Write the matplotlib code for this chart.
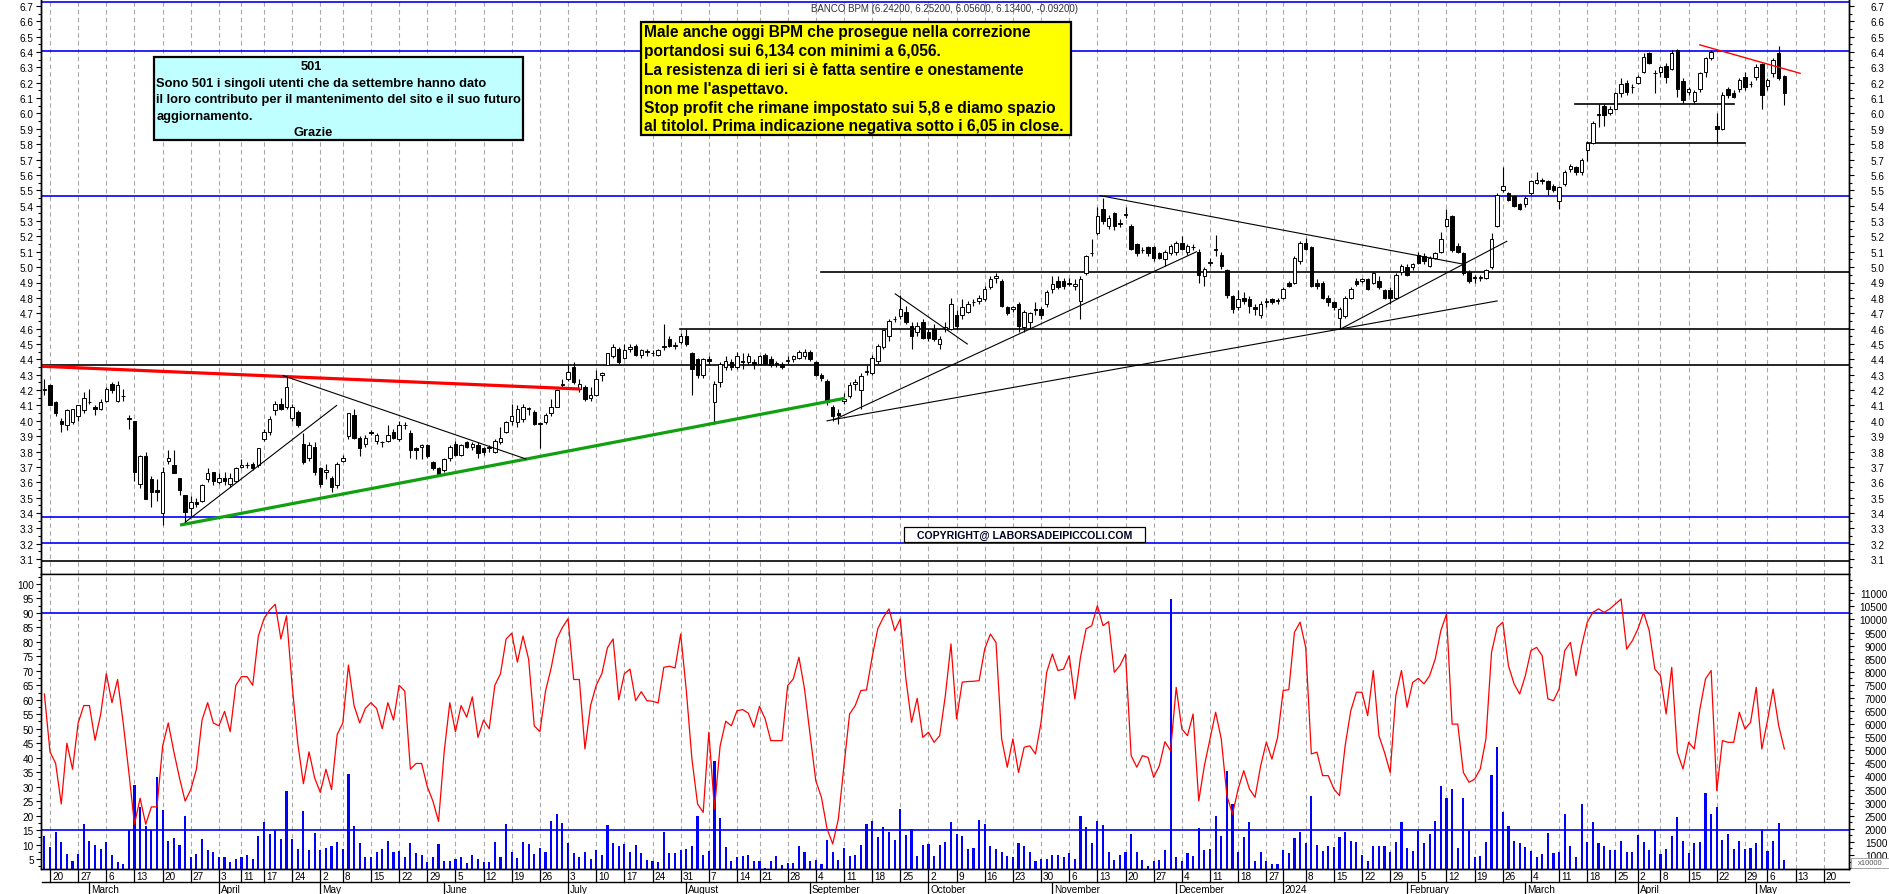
import numpy as np
import pandas as pd
import matplotlib
matplotlib.use('Agg')
import matplotlib.pyplot as plt
from matplotlib.patches import Rectangle
from matplotlib.ticker import MultipleLocator, FixedLocator

W, H = 1890, 895
plt.rcParams['font.family'] = ['Liberation Sans', 'DejaVu Sans']

# Borsa Italiana closing days in the period
HOLIDAYS = ['2023-04-07', '2023-04-10', '2023-05-01', '2023-08-15', '2023-12-25',
            '2023-12-26', '2024-01-01', '2024-03-29', '2024-04-01', '2024-05-01']

# daily candles, 17 Feb 2023 -> 9 May 2024
opens = [
    4.20, 4.23, 4.12, 4.00, 3.97, 3.99, 4.03, 4.07, 4.12, 4.09,
    4.08, 4.13, 4.24, 4.13, 4.16, 4.02, 4.00, 3.59, 3.77, 3.62,
    3.55, 3.40, 3.74, 3.71, 3.63, 3.52, 3.43, 3.47, 3.48, 3.62,
    3.67, 3.60, 3.63, 3.59, 3.61, 3.70, 3.71, 3.72, 3.71, 3.88,
    3.93, 4.07, 4.11, 4.09, 4.02, 4.06, 3.85, 3.76, 3.83, 3.69,
    3.67, 3.63, 3.58, 3.74, 3.90, 4.04, 3.89, 3.85, 3.93, 3.87,
    3.86, 3.87, 3.93, 3.88, 3.97, 3.92, 3.82, 3.83, 3.84, 3.73,
    3.69, 3.68, 3.76, 3.85, 3.78, 3.86, 3.83, 3.84, 3.82, 3.82,
    3.80, 3.86, 3.93, 4.00, 3.99, 4.01, 4.08, 4.06, 3.98, 3.99,
    4.05, 4.09, 4.23, 4.27, 4.35, 4.21, 4.22, 4.15, 4.17, 4.30,
    4.36, 4.42, 4.47, 4.41, 4.47, 4.49, 4.43, 4.45, 4.44, 4.43,
    4.48, 4.53, 4.49, 4.51, 4.55, 4.44, 4.40, 4.30, 4.40, 4.12,
    4.25, 4.35, 4.38, 4.35, 4.39, 4.38, 4.38, 4.37, 4.43, 4.40,
    4.37, 4.37, 4.39, 4.40, 4.41, 4.42, 4.45, 4.38, 4.30, 4.26,
    4.09, 4.05, 4.13, 4.16, 4.24, 4.20, 4.32, 4.31, 4.39, 4.48,
    4.55, 4.66, 4.68, 4.71, 4.62, 4.58, 4.64, 4.58, 4.60, 4.50,
    4.60, 4.60, 4.69, 4.69, 4.71, 4.77, 4.78, 4.79, 4.87, 4.93,
    4.91, 4.74, 4.73, 4.76, 4.61, 4.64, 4.73, 4.73, 4.76, 4.86,
    4.91, 4.91, 4.90, 4.88, 4.78, 4.96, 5.09, 5.22, 5.38, 5.27,
    5.35, 5.29, 5.34, 5.27, 5.15, 5.11, 5.13, 5.13, 5.09, 5.05,
    5.09, 5.10, 5.16, 5.10, 5.13, 5.10, 4.94, 5.03, 5.11, 5.08,
    4.98, 4.81, 4.74, 4.80, 4.79, 4.74, 4.69, 4.77, 4.79, 4.78,
    4.80, 4.90, 4.90, 5.04, 5.16, 5.13, 4.90, 4.90, 4.80, 4.77,
    4.67, 4.68, 4.80, 4.91, 4.91, 4.92, 4.90, 4.91, 4.85, 4.85,
    4.80, 4.97, 5.00, 5.00, 5.08, 5.07, 5.01, 5.06, 5.10, 5.27,
    5.33, 5.14, 5.09, 4.97, 4.93, 4.93, 4.93, 5.00, 5.27, 5.50,
    5.48, 5.46, 5.41, 5.41, 5.48, 5.55, 5.56, 5.56, 5.53, 5.43,
    5.54, 5.64, 5.65, 5.62, 5.76, 5.81, 5.99, 6.05, 6.00, 6.03,
    6.13, 6.20, 6.17, 6.20, 6.27, 6.39, 6.26, 6.27, 6.31, 6.29,
    6.41, 6.21, 6.14, 6.08, 6.16, 6.27, 6.36, 5.92, 5.90, 6.16,
    6.13, 6.16, 6.24, 6.19, 6.24, 6.32, 6.18, 6.26, 6.39, 6.242,
]
highs = [
    4.27, 4.24, 4.13, 4.02, 4.08, 4.08, 4.10, 4.19, 4.21, 4.10,
    4.14, 4.22, 4.25, 4.26, 4.21, 4.04, 4.00, 3.78, 3.80, 3.64,
    3.62, 3.70, 3.81, 3.81, 3.63, 3.52, 3.51, 3.50, 3.59, 3.69,
    3.67, 3.66, 3.67, 3.66, 3.70, 3.75, 3.73, 3.73, 3.82, 3.95,
    4.03, 4.13, 4.15, 4.29, 4.11, 4.07, 3.92, 3.86, 3.86, 3.70,
    3.72, 3.64, 3.73, 3.78, 4.05, 4.08, 3.90, 3.91, 3.94, 3.92,
    3.87, 3.97, 3.95, 4.00, 3.99, 3.94, 3.83, 3.85, 3.85, 3.74,
    3.70, 3.76, 3.84, 3.87, 3.85, 3.87, 3.86, 3.86, 3.83, 3.84,
    3.88, 3.96, 4.00, 4.11, 4.10, 4.11, 4.09, 4.07, 3.99, 4.05,
    4.14, 4.21, 4.27, 4.36, 4.38, 4.27, 4.23, 4.22, 4.33, 4.32,
    4.44, 4.50, 4.48, 4.50, 4.50, 4.50, 4.47, 4.47, 4.46, 4.47,
    4.63, 4.55, 4.51, 4.57, 4.60, 4.45, 4.41, 4.41, 4.42, 4.26,
    4.38, 4.42, 4.40, 4.45, 4.44, 4.44, 4.40, 4.43, 4.44, 4.42,
    4.39, 4.38, 4.42, 4.43, 4.46, 4.47, 4.46, 4.39, 4.31, 4.27,
    4.10, 4.08, 4.18, 4.25, 4.27, 4.31, 4.36, 4.43, 4.50, 4.60,
    4.66, 4.68, 4.82, 4.75, 4.64, 4.64, 4.66, 4.60, 4.63, 4.55,
    4.64, 4.80, 4.72, 4.79, 4.78, 4.79, 4.82, 4.88, 4.94, 4.96,
    4.92, 4.75, 4.75, 4.77, 4.72, 4.71, 4.77, 4.74, 4.85, 4.94,
    4.94, 4.93, 4.93, 4.92, 4.94, 5.08, 5.18, 5.39, 5.45, 5.34,
    5.36, 5.31, 5.39, 5.28, 5.16, 5.13, 5.14, 5.14, 5.10, 5.11,
    5.15, 5.17, 5.20, 5.15, 5.15, 5.12, 5.00, 5.06, 5.21, 5.10,
    4.99, 4.82, 4.85, 4.84, 4.81, 4.76, 4.78, 4.80, 4.80, 4.80,
    4.87, 4.91, 5.07, 5.17, 5.19, 5.14, 4.92, 4.91, 4.82, 4.78,
    4.74, 4.81, 4.87, 4.93, 4.93, 4.93, 4.97, 4.94, 4.86, 4.87,
    4.96, 5.02, 5.02, 5.03, 5.10, 5.09, 5.07, 5.10, 5.23, 5.38,
    5.34, 5.16, 5.10, 4.98, 4.95, 4.95, 4.99, 5.22, 5.48, 5.65,
    5.49, 5.47, 5.42, 5.46, 5.57, 5.62, 5.58, 5.57, 5.54, 5.53,
    5.63, 5.67, 5.66, 5.71, 5.82, 5.95, 6.06, 6.06, 6.05, 6.14,
    6.23, 6.22, 6.19, 6.25, 6.39, 6.40, 6.28, 6.31, 6.33, 6.41,
    6.42, 6.23, 6.17, 6.15, 6.27, 6.37, 6.41, 6.00, 6.14, 6.17,
    6.15, 6.23, 6.27, 6.21, 6.32, 6.33, 6.23, 6.36, 6.44, 6.252,
]
lows = [
    4.17, 4.10, 4.03, 3.93, 3.94, 3.98, 4.00, 4.05, 4.11, 4.04,
    4.07, 4.12, 4.18, 4.12, 4.13, 3.95, 3.61, 3.56, 3.49, 3.44,
    3.48, 3.32, 3.72, 3.66, 3.52, 3.34, 3.38, 3.44, 3.47, 3.60,
    3.58, 3.59, 3.58, 3.57, 3.60, 3.69, 3.69, 3.68, 3.70, 3.87,
    3.91, 4.04, 4.07, 4.08, 4.00, 3.96, 3.72, 3.74, 3.65, 3.57,
    3.62, 3.54, 3.56, 3.73, 3.88, 3.88, 3.77, 3.83, 3.91, 3.85,
    3.83, 3.86, 3.88, 3.87, 3.95, 3.76, 3.75, 3.75, 3.76, 3.68,
    3.64, 3.67, 3.74, 3.77, 3.77, 3.82, 3.81, 3.76, 3.78, 3.80,
    3.79, 3.85, 3.92, 3.97, 3.96, 3.99, 4.04, 3.97, 3.82, 3.98,
    4.03, 4.09, 4.22, 4.26, 4.24, 4.19, 4.13, 4.13, 4.16, 4.26,
    4.36, 4.41, 4.37, 4.40, 4.45, 4.42, 4.41, 4.42, 4.42, 4.42,
    4.46, 4.48, 4.47, 4.50, 4.49, 4.17, 4.28, 4.28, 4.36, 3.98,
    4.22, 4.33, 4.33, 4.34, 4.34, 4.37, 4.34, 4.36, 4.36, 4.35,
    4.35, 4.34, 4.37, 4.38, 4.40, 4.40, 4.39, 4.29, 4.26, 4.10,
    4.00, 3.98, 4.11, 4.15, 4.20, 4.08, 4.30, 4.30, 4.37, 4.47,
    4.52, 4.64, 4.66, 4.63, 4.47, 4.55, 4.53, 4.52, 4.52, 4.47,
    4.58, 4.59, 4.60, 4.66, 4.70, 4.75, 4.76, 4.78, 4.86, 4.90,
    4.74, 4.69, 4.71, 4.58, 4.58, 4.60, 4.69, 4.66, 4.74, 4.83,
    4.86, 4.86, 4.88, 4.85, 4.66, 4.95, 5.07, 5.21, 5.28, 5.25,
    5.24, 5.26, 5.32, 5.11, 5.07, 5.09, 5.07, 5.04, 5.05, 5.01,
    5.08, 5.08, 5.11, 5.08, 5.11, 4.90, 4.88, 5.01, 5.07, 4.99,
    4.80, 4.70, 4.72, 4.76, 4.70, 4.69, 4.67, 4.74, 4.76, 4.76,
    4.79, 4.87, 4.89, 5.02, 5.11, 4.87, 4.86, 4.79, 4.75, 4.72,
    4.60, 4.67, 4.79, 4.88, 4.90, 4.85, 4.89, 4.86, 4.79, 4.76,
    4.79, 4.95, 4.94, 4.98, 5.02, 5.02, 5.00, 5.05, 5.09, 5.26,
    5.10, 5.09, 4.95, 4.90, 4.90, 4.91, 4.92, 4.99, 5.26, 5.49,
    5.43, 5.39, 5.37, 5.39, 5.47, 5.54, 5.54, 5.47, 5.49, 5.38,
    5.53, 5.62, 5.60, 5.60, 5.69, 5.80, 5.91, 5.92, 5.99, 6.02,
    6.11, 6.12, 6.13, 6.19, 6.26, 6.32, 6.13, 6.24, 6.20, 6.28,
    6.11, 6.07, 6.12, 6.06, 6.14, 6.24, 6.35, 5.81, 5.89, 6.10,
    6.10, 6.14, 6.15, 6.17, 6.22, 6.03, 6.15, 6.24, 6.22, 6.056,
]
closes = [
    4.21, 4.10, 4.05, 3.98, 4.07, 4.08, 4.10, 4.15, 4.12, 4.08,
    4.12, 4.21, 4.20, 4.23, 4.16, 4.01, 3.67, 3.77, 3.49, 3.54,
    3.54, 3.67, 3.76, 3.66, 3.55, 3.41, 3.47, 3.46, 3.58, 3.66,
    3.61, 3.63, 3.61, 3.63, 3.69, 3.71, 3.71, 3.69, 3.82, 3.93,
    4.01, 4.11, 4.08, 4.22, 4.09, 3.97, 3.73, 3.84, 3.67, 3.59,
    3.68, 3.57, 3.72, 3.76, 4.05, 3.89, 3.82, 3.89, 3.92, 3.91,
    3.86, 3.91, 3.89, 3.97, 3.97, 3.81, 3.81, 3.84, 3.77, 3.69,
    3.65, 3.75, 3.83, 3.78, 3.84, 3.83, 3.85, 3.79, 3.80, 3.83,
    3.87, 3.89, 3.99, 4.03, 4.08, 4.09, 4.08, 3.98, 3.98, 4.04,
    4.09, 4.20, 4.24, 4.32, 4.25, 4.24, 4.14, 4.17, 4.27, 4.31,
    4.44, 4.48, 4.38, 4.46, 4.48, 4.43, 4.46, 4.45, 4.44, 4.46,
    4.48, 4.49, 4.49, 4.55, 4.50, 4.34, 4.30, 4.40, 4.39, 4.24,
    4.37, 4.39, 4.35, 4.42, 4.38, 4.42, 4.37, 4.42, 4.37, 4.36,
    4.37, 4.35, 4.39, 4.42, 4.45, 4.45, 4.40, 4.30, 4.28, 4.12,
    4.03, 4.04, 4.14, 4.23, 4.25, 4.29, 4.32, 4.41, 4.49, 4.59,
    4.65, 4.66, 4.73, 4.64, 4.55, 4.62, 4.54, 4.54, 4.53, 4.53,
    4.61, 4.76, 4.62, 4.74, 4.76, 4.77, 4.80, 4.86, 4.92, 4.94,
    4.75, 4.70, 4.74, 4.62, 4.71, 4.70, 4.72, 4.69, 4.84, 4.89,
    4.87, 4.88, 4.89, 4.89, 4.92, 5.07, 5.09, 5.33, 5.30, 5.32,
    5.27, 5.28, 5.34, 5.12, 5.09, 5.11, 5.09, 5.06, 5.06, 5.10,
    5.14, 5.16, 5.12, 5.14, 5.13, 4.95, 4.99, 5.03, 5.12, 5.01,
    4.82, 4.73, 4.79, 4.78, 4.75, 4.73, 4.76, 4.78, 4.77, 4.78,
    4.86, 4.88, 5.06, 5.16, 5.12, 4.88, 4.88, 4.80, 4.77, 4.74,
    4.73, 4.80, 4.86, 4.89, 4.92, 4.86, 4.96, 4.87, 4.80, 4.80,
    4.95, 5.01, 4.95, 5.02, 5.03, 5.04, 5.06, 5.09, 5.18, 5.31,
    5.11, 5.10, 4.96, 4.91, 4.93, 4.93, 4.98, 5.18, 5.47, 5.53,
    5.44, 5.40, 5.38, 5.45, 5.56, 5.57, 5.56, 5.51, 5.50, 5.52,
    5.62, 5.66, 5.62, 5.70, 5.81, 5.94, 5.99, 5.99, 6.03, 6.13,
    6.19, 6.14, 6.17, 6.24, 6.37, 6.33, 6.26, 6.30, 6.24, 6.39,
    6.16, 6.09, 6.16, 6.14, 6.26, 6.36, 6.40, 5.90, 6.12, 6.12,
    6.11, 6.22, 6.17, 6.19, 6.30, 6.12, 6.22, 6.35, 6.23, 6.134,
]
# volume (x10000) on the right scale of the lower panel
volume = [
    1710, 1290, 1870, 1480, 1040, 780, 1040, 2180, 1550, 1380,
    1230, 1480, 1000, 720, 660, 1970, 3680, 2820, 2120, 1970,
    3970, 2730, 1550, 1640, 1380, 2480, 940, 1040, 1610, 1190,
    1100, 940, 910, 750, 850, 940, 1000, 850, 1740, 2250,
    1800, 1960, 1610, 3430, 1610, 1230, 2690, 1190, 1840, 1190,
    1250, 1330, 1510, 1230, 4100, 2120, 1460, 910, 910, 1100,
    1230, 1550, 1100, 1170, 940, 1460, 1080, 1000, 720, 940,
    1420, 780, 780, 850, 940, 690, 1000, 850, 750, 750,
    1480, 940, 2180, 1130, 870, 1480, 1420, 1040, 1260, 1130,
    2310, 2570, 2220, 1460, 1080, 940, 1100, 850, 1200, 1000,
    2150, 1460, 1330, 1420, 1100, 1380, 1060, 810, 760, 750,
    1870, 1060, 1080, 1190, 1230, 1360, 2500, 1000, 1170, 4610,
    2410, 1320, 760, 910, 970, 1010, 760, 760, 490, 760,
    970, 620, 690, 690, 1330, 1100, 780, 810, 660, 1590,
    1130, 810, 1270, 970, 1000, 1390, 2180, 2290, 1680, 2080,
    1890, 1570, 2760, 1750, 1990, 950, 1390, 1420, 970, 1380,
    1480, 2250, 1800, 1710, 1230, 1250, 2340, 2180, 1330, 1230,
    1130, 970, 910, 1450, 1360, 1130, 760, 850, 850, 1010,
    1010, 910, 1060, 850, 2480, 2060, 1450, 2290, 2150, 1130,
    820, 1000, 1130, 1800, 1100, 810, 570, 780, 820, 1200,
    10780, 940, 780, 1060, 970, 2040, 1190, 1230, 2500, 1710,
    4220, 2950, 1100, 1700, 2250, 780, 1100, 760, 660, 660,
    1200, 1080, 1640, 1870, 1450, 3240, 1390, 1140, 1360, 1290,
    1680, 1870, 1520, 1480, 1000, 780, 1360, 1360, 1330, 1100,
    1510, 2250, 1250, 1170, 1930, 1450, 1800, 2310, 3620, 3170,
    3520, 1250, 3170, 1970, 910, 950, 1480, 4060, 5110, 2630,
    2120, 1520, 1450, 1290, 1140, 910, 1040, 1840, 1060, 1100,
    2570, 1330, 910, 2950, 1480, 2250, 1450, 1330, 1190, 1190,
    1520, 1100, 1100, 1760, 1480, 1190, 1960, 1040, 1230, 1710,
    2440, 1520, 1060, 1450, 1510, 3360, 2570, 2820, 1570, 1800,
    1230, 1520, 1230, 1260, 1460, 1960, 1170, 1520, 2220, 810,
]
# oscillator (left scale of the lower panel)
oscillator = [
    62, 42, 38, 24, 45, 36, 52, 58, 58, 46,
    55, 69, 59, 67, 52, 35, 17, 26, 17, 23,
    23, 44, 52, 42, 33, 25, 29, 36, 53, 59,
    52, 51, 56, 49, 65, 68, 68, 65, 82, 88,
    91, 93, 81, 89, 65, 45, 31, 42, 33, 28,
    36, 29, 48, 52, 72, 58, 52, 57, 59, 57,
    50, 59, 53, 65, 63, 36, 38, 38, 30, 25,
    18, 42, 59, 49, 58, 54, 61, 47, 53, 50,
    65, 69, 81, 83, 73, 82, 74, 51, 49, 63,
    71, 81, 85, 88, 67, 67, 43, 58, 65, 69,
    78, 81, 60, 69, 70.6, 59.7, 62.8, 59.7, 59.5, 58.9,
    71.2, 71.6, 71, 82.7, 63.2, 39.5, 24, 21.1, 48.8, 22.3,
    44, 52.6, 51, 56.2, 56.6, 55.4, 50.5, 57.7, 53.4, 45.9,
    45.9, 45.9, 64.9, 67.2, 74.7, 63.7, 47.6, 32, 26.3, 15.4,
    10.2, 18.8, 37.2, 55.1, 58, 63.2, 63.4, 74.7, 84.5, 88.5,
    91.4, 83.9, 87.9, 67.2, 52.2, 60.5, 47, 48.8, 45.3, 47.6,
    61.4, 79.3, 53.4, 66.1, 66.3, 66.4, 66.6, 77.6, 82.7, 79.8,
    46.5, 36.7, 46.5, 34.9, 43.6, 44.1, 41.3, 52.2, 69.5, 75.8,
    70.1, 70.6, 75.2, 60.3, 74.7, 84.5, 85.6, 92.5, 85.6, 87,
    69.5, 71.8, 75.8, 40.7, 36.7, 40.7, 40.1, 33.2, 37.2, 45.5,
    42.4, 64.3, 49.9, 47.6, 55.1, 25.1, 37.2, 46.5, 55.7, 46.5,
    26.9, 20.5, 29.2, 35.5, 29.2, 26.3, 37.2, 45.3, 39.5, 47,
    63.2, 63.5, 83.3, 86.8, 78.1, 41.3, 41.9, 33.8, 33.8, 29.2,
    26.9, 44.1, 56.2, 62.6, 62.6, 54.5, 70.1, 47.6, 41.8, 34.9,
    61.4, 70.1, 57.4, 66, 67.4, 65.5, 68.3, 74.1, 83.9, 89.6,
    51.6, 51.6, 34.9, 31.5, 32.6, 36.1, 46.5, 76.4, 85, 86.8,
    71.8, 65.5, 62, 68.3, 77, 78.1, 75.2, 60.3, 59.7, 63.7,
    77, 79.8, 68.3, 78.7, 86.8, 90.2, 91.4, 90.2, 91.4, 93.1,
    94.8, 77.5, 80.4, 84.5, 90.2, 83.9, 70.6, 68.3, 55.1, 71.2,
    41.8, 36.1, 45.3, 43, 56.8, 67.2, 70.1, 28.6, 45.9, 45.3,
    45.3, 55.7, 49.9, 52.2, 64.3, 43, 52.8, 63.7, 51, 43,
]

# levels and trend lines drawn on the chart (x = trading day, 0 = 20 Feb 2023)
blue_levels = [6.723, 6.405, 5.465, 3.372, 3.203]
black_levels = [4.36, 3.09]
partial_levels = [(4.97, 136.9, None), (4.60, 111.9, None), (6.06, 270.8, 299.1), (5.81, 273.0, 301.0)]
red_trend = [(-1.5, 4.355), (94.2, 4.207)]
green_trend = [(23.1, 3.322), (141.2, 4.147)]
thin_trends = [
    [(24.0, 3.34), (50.9, 4.10)],
    [(41.4, 4.294), (84.5, 3.752)],
    [(150.1, 4.826), (162.9, 4.50)],
    [(138.0, 4.00), (139.4, 4.01)],
    [(139.4, 4.01), (203.6, 5.10)],
    [(139.4, 4.01), (257.0, 4.78)],
    [(186.5, 5.465), (250.9, 5.02)],
    [(229.2, 4.598), (258.7, 5.168)],
]
red_thin = [(293.0, 6.446), (310.8, 6.261)]

n = min(len(opens), len(highs), len(lows), len(closes), len(volume), len(oscillator))
xs = np.arange(n) - 1
XL = (-1.51, 319.48)

days = pd.bdate_range('2023-02-17', '2024-05-31', freq='C', holidays=HOLIDAYS)

fig = plt.figure(figsize=(W / 100, H / 100), dpi=100)
LPX, RPX = 41.5, 1849


def rect(top, bottom):
    return [LPX / W, 1 - bottom / H, (RPX - LPX) / W, (bottom - top) / H]


ax_p = fig.add_axes(rect(0, 575))
ax_v = fig.add_axes(rect(575, 870))
ax_d = fig.add_axes(rect(870, 895))

# price scale: 4.9 at y=283.5 px, 153.7 px per unit
ax_p.set_ylim(4.9 - (575 - 283.5) / 153.7, 4.9 + 283.5 / 153.7)
ax_v.set_ylim(1000 - 14 / 0.02617, 1000 + 281 / 0.02617)
for a in (ax_p, ax_v, ax_d):
    a.set_xlim(*XL)

ax_o = ax_v.twinx()
ax_o.set_ylim(5 - 10 / 2.895, 5 + 285 / 2.895)
ax_o.yaxis.tick_left()
ax_o.yaxis.set_label_position('left')
ax_o.patch.set_visible(False)

# weekly grid and date strip
week_x, week_lab, month_x, month_lab = [], [], [], []
for k in range(1, len(days)):
    xi = k - 1
    if xi > XL[1]:
        break
    if days[k].weekday() <= days[k - 1].weekday():
        week_x.append(xi)
        week_lab.append('' if (days[k].month == 1 and days[k].day == 2) else str(days[k].day))
    if days[k].month != days[k - 1].month:
        month_x.append(xi)
        month_lab.append('2024' if days[k].month == 1 else days[k].strftime('%B'))

for a in (ax_p, ax_v):
    for wx in week_x:
        a.axvline(wx, color='#a8a8a8', lw=0.8, ls=(0, (4, 3)), zorder=0.5)

ax_d.set_ylim(0, 25)
ax_d.axis('off')
ax_d.plot(XL, [12, 12], color='black', lw=1.0, clip_on=False)
for wx, lab in zip(week_x, week_lab):
    ax_d.plot([wx, wx], [12, 25], color='black', lw=0.9)
    ax_d.text(wx + 0.35, 18.3, lab, fontsize=7.2, ha='left', va='center')
for mx, lab in zip(month_x, month_lab):
    ax_d.plot([mx, mx], [0, 12], color='black', lw=0.9)
    ax_d.text(mx + 0.3, 5.3, lab, fontsize=7.2, ha='left', va='center')

# horizontal levels
for lv in blue_levels:
    ax_p.axhline(lv, color='#0000ff', lw=1.2, zorder=1.5)
for lv in black_levels:
    ax_p.axhline(lv, color='black', lw=1.2, zorder=1.5)
for lv, x0, x1 in partial_levels:
    ax_p.plot([x0, XL[1] if x1 is None else x1], [lv, lv], color='black', lw=1.2, zorder=1.5)

# candles
o = np.array(opens[:n]); c = np.array(closes[:n])
hi = np.array(highs[:n]); lo = np.array(lows[:n])
ax_p.vlines(xs, lo, hi, color='black', lw=0.8, zorder=2)
bottoms = np.minimum(o, c)
heights = np.maximum(np.abs(c - o), 0.004)
faces = ['white' if cc >= oo else 'black' for oo, cc in zip(o, c)]
ax_p.bar(xs, heights, bottom=bottoms, width=0.62, color=faces, edgecolor='black',
         linewidth=0.7, zorder=3)

# trend lines
ax_p.plot(*zip(*red_trend), color='#ff0000', lw=2.3, zorder=4, solid_capstyle='butt')
ax_p.plot(*zip(*green_trend), color='#10a010', lw=2.3, zorder=4, solid_capstyle='butt')
for seg in thin_trends:
    ax_p.plot(*zip(*seg), color='black', lw=0.8, zorder=4)
ax_p.plot(*zip(*red_thin), color='#ff0000', lw=1.0, zorder=4)

# volume and oscillator
ax_v.bar(xs, volume[:n], width=0.38, color='#0000ff', zorder=2)
ax_o.plot(xs, oscillator[:n], color='#ff0000', lw=0.9, zorder=3)
ax_o.axhline(90, color='#0000ff', lw=1.2, zorder=2)
ax_o.axhline(15, color='#0000ff', lw=1.2, zorder=2)

# axes styling
TL = 3.6
ax_p.set_xticks([]); ax_v.set_xticks([]); ax_o.set_xticks([])
ax_p.yaxis.set_major_locator(FixedLocator(np.round(np.arange(3.1, 6.71, 0.1), 2)))
ax_p.yaxis.set_minor_locator(FixedLocator(np.round(np.arange(3.05, 6.74, 0.1), 3)))
ax_p.yaxis.set_major_formatter(plt.FuncFormatter(lambda v, p: f'{v:.1f}'))
ax_p.tick_params(axis='y', which='major', length=TL, width=0.8, labelsize=7.2, pad=2)
ax_p.tick_params(axis='y', which='minor', length=2.2, width=0.8)

ax_p2 = ax_p.twinx()
ax_p2.set_ylim(ax_p.get_ylim())
ax_p2.yaxis.set_major_locator(FixedLocator(np.round(np.arange(3.1, 6.71, 0.1), 2)))
ax_p2.yaxis.set_minor_locator(FixedLocator(np.round(np.arange(3.05, 6.74, 0.1), 3)))
ax_p2.yaxis.set_major_formatter(plt.FuncFormatter(lambda v, p: f'{v:.1f}'))
ax_p2.tick_params(axis='y', which='major', length=TL, width=0.8, labelsize=7.2, pad=22)
ax_p2.tick_params(axis='y', which='minor', length=2.2, width=0.8)
for lab in ax_p2.get_yticklabels():
    lab.set_horizontalalignment('right')

ax_o.yaxis.set_major_locator(FixedLocator(np.arange(5, 101, 5)))
ax_o.yaxis.set_minor_locator(MultipleLocator(2.5))
ax_o.tick_params(axis='y', which='major', length=TL, width=0.8, labelsize=7.2, pad=2)
ax_o.tick_params(axis='y', which='minor', length=2.2, width=0.8)

ax_v.yaxis.tick_right()
ax_v.yaxis.set_major_locator(FixedLocator(np.arange(1000, 11001, 500)))
ax_v.yaxis.set_minor_locator(MultipleLocator(250))
ax_v.tick_params(axis='y', which='major', length=TL, width=0.8, labelsize=7.2, pad=24)
ax_v.tick_params(axis='y', which='minor', length=2.2, width=0.8)
for lab in ax_v.get_yticklabels():
    lab.set_horizontalalignment('right')

for a in (ax_p, ax_p2, ax_v, ax_o):
    for s in a.spines.values():
        s.set_linewidth(1.0)
    a.spines['top'].set_visible(False)


def fbox(x0, y0, x1, y1, fc, lw):
    fig.add_artist(Rectangle((x0 / W, 1 - y1 / H), (x1 - x0) / W, (y1 - y0) / H,
                             transform=fig.transFigure, facecolor=fc, edgecolor='black',
                             linewidth=lw, zorder=10))


def ftext(x, y, s, **kw):
    fig.text(x / W, 1 - y / H, s, zorder=11, **kw)


ftext(945, 9, 'BANCO BPM (6.24200, 6.25200, 6.05600, 6.13400, -0.09200)',
      fontsize=7, ha='center', va='center', color='#333333')

# yellow comment box
fbox(641, 23, 1071, 136, '#ffff00', 1.6)
yellow_lines = [
    "Male anche oggi BPM che prosegue nella correzione",
    "portandosi sui 6,134 con minimi a 6,056.",
    "La resistenza di ieri si è fatta sentire e onestamente",
    "non me l'aspettavo.",
    "Stop profit che rimane impostato sui 5,8 e diamo spazio",
    "al titolol. Prima indicazione negativa sotto i 6,05 in close.",
]
for k, line in enumerate(yellow_lines):
    ftext(644, 32.5 + k * 18.9, line, fontsize=11.2, fontweight='bold', ha='left', va='center')

# cyan box
fbox(154, 58, 523, 141, '#c0ffff', 1.6)
ftext(311, 67.3, '501', fontsize=9.3, fontweight='bold', ha='center', va='center')
cyan_lines = [
    'Sono 501 i singoli utenti che da settembre hanno dato',
    'il loro contributo per il mantenimento del sito e il suo futuro',
    'aggiornamento.',
]
for k, line in enumerate(cyan_lines):
    ftext(156.5, 83.5 + k * 16.7, line, fontsize=9.3, fontweight='bold', ha='left', va='center',
          family=['Liberation Sans Narrow', 'Liberation Sans'])
ftext(313, 133.3, 'Grazie', fontsize=9.3, fontweight='bold', ha='center', va='center')

# copyright label
fbox(904, 528, 1145, 543, 'white', 0.9)
ftext(1024.5, 535.8, 'COPYRIGHT@ LABORSADEIPICCOLI.COM', fontsize=7.6, fontweight='bold',
      ha='center', va='center', color='#000020')

# volume unit
fig.add_artist(Rectangle((1851 / W, 1 - 869 / H), 38 / W, 10 / H, transform=fig.transFigure,
                         facecolor='white', edgecolor='#999999', linewidth=0.6, zorder=10))
ftext(1870, 864, 'x10000', fontsize=5.5, ha='center', va='center', color='#555555')

fig.savefig('out.png', dpi=100)
